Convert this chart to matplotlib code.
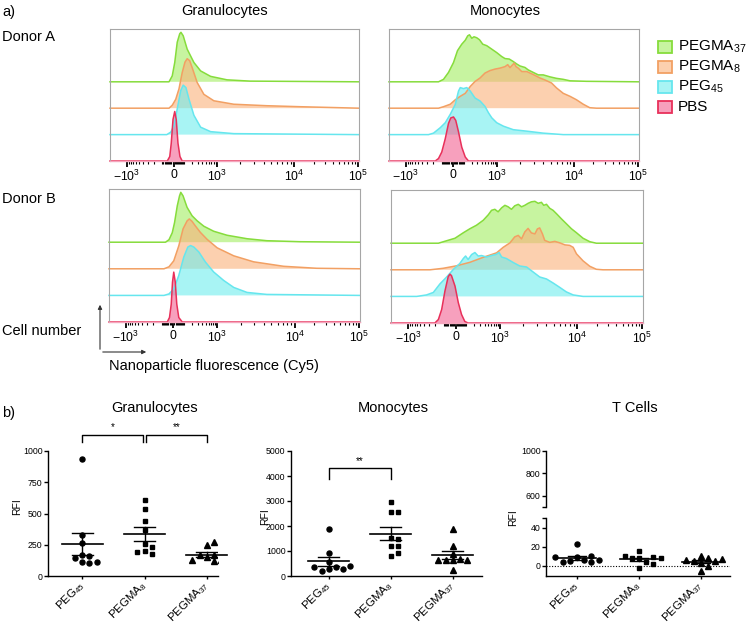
import numpy as np
import matplotlib
matplotlib.use('Agg')
import matplotlib.pyplot as plt
from matplotlib.patches import Rectangle, FancyArrowPatch

plt.rcParams['font.family'] = ['Liberation Sans', 'DejaVu Sans']
plt.rcParams['mathtext.fontset'] = 'custom'
plt.rcParams['mathtext.rm'] = 'Liberation Sans'
plt.rcParams['mathtext.it'] = 'Liberation Sans:italic'
plt.rcParams['mathtext.bf'] = 'Liberation Sans:bold'
plt.rcParams['mathtext.sf'] = 'Liberation Sans'

# ------------------------------------------------------------------ data
# Histograms: x in display channels (0-1000), y in % of modal height
A_GRAN_GREEN_X = [0, 237, 250, 260, 270, 280, 285, 294, 310, 337, 364, 404, 470, 563, 1000]
A_GRAN_GREEN_Y = [0, 0, 12, 39, 80, 97, 100, 93, 66, 39, 22, 11, 4, 1.4, 0]
A_GRAN_ORANGE_X = [0, 237, 250, 264, 277, 290, 301, 310, 320, 330, 350, 377, 417, 497, 630, 763, 1000]
A_GRAN_ORANGE_Y = [0, 0, 6, 18, 39, 72, 93, 100, 96, 82, 52, 28, 15, 8, 5, 3, 0]
A_GRAN_CYAN_X = [0, 228, 244, 257, 270, 284, 294, 305, 317, 337, 364, 404, 497, 1000]
A_GRAN_CYAN_Y = [0, 0, 5, 18, 52, 89, 100, 95, 72, 39, 15, 6, 2, 0]
A_GRAN_PINK_X = [0, 230, 240, 246, 253, 260, 266, 273, 281, 290, 1000]
A_GRAN_PINK_Y = [0, 0, 9, 36, 84, 100, 84, 36, 9, 0, 0]

A_MONO_GREEN_X = [0, 198, 218, 238, 258, 274, 291, 305, 315, 322, 331, 340, 351, 362, 375, 391, 411,
                  431, 451, 464, 481, 497, 511, 524, 544, 557, 577, 597, 617, 644, 670, 697, 724, 790, 1000]
A_MONO_GREEN_Y = [0, 0, 5, 19, 39, 63, 76, 84, 93, 95, 88, 91, 89, 85, 76, 73, 66,
                  59, 51, 47, 46, 41, 36, 32, 29, 24, 19, 14, 14, 10, 7, 5, 2, 1, 0]
A_MONO_ORANGE_X = [0, 198, 218, 245, 265, 285, 305, 325, 344, 364, 384, 404, 424, 444, 464, 475, 484,
                   495, 501, 508, 517, 531, 551, 577, 604, 624, 650, 670, 697, 724, 750, 777, 803, 830, 1000]
A_MONO_ORANGE_Y = [0, 0, 3, 8, 17, 24, 30, 44, 54, 61, 71, 76, 79, 81, 84, 88, 82,
                   88, 91, 84, 81, 74, 74, 68, 61, 57, 51, 41, 30, 24, 17, 8, 1, 0, 0]
A_MONO_CYAN_X = [0, 158, 178, 205, 225, 245, 265, 278, 285, 298, 311, 325, 344, 364, 384, 398, 411,
                 431, 458, 497, 551, 617, 697, 1000]
A_MONO_CYAN_Y = [0, 0, 3, 14, 24, 41, 61, 88, 95, 93, 95, 88, 74, 68, 57, 44, 34,
                 24, 17, 10, 7, 3, 0, 0]
A_MONO_PINK_X = [0, 185, 198, 211, 225, 238, 247, 258, 267, 278, 291, 305, 318, 1000]
A_MONO_PINK_Y = [0, 0, 5, 18, 45, 76, 87, 89, 82, 59, 28, 8, 0, 0]

B_GRAN_GREEN_X = [0, 225, 239, 252, 261, 272, 281, 286, 295, 311, 331, 351, 378, 417, 470, 550, 629, 762, 1000]
B_GRAN_GREEN_Y = [0, 0, 5, 19, 39, 73, 93, 100, 93, 70, 53, 43, 32, 22, 14, 7, 3, 1, 0]
B_GRAN_ORANGE_X = [0, 219, 239, 258, 278, 295, 311, 320, 331, 344, 364, 391, 431, 497, 576, 696, 828, 1000]
B_GRAN_ORANGE_Y = [0, 0, 4, 16, 46, 80, 96, 100, 95, 86, 73, 59, 42, 26, 14, 5, 1, 0]
B_GRAN_CYAN_X = [0, 219, 239, 258, 278, 298, 314, 325, 338, 358, 384, 417, 457, 497, 550, 629, 1000]
B_GRAN_CYAN_Y = [0, 0, 3, 13, 40, 77, 97, 100, 97, 87, 67, 47, 30, 16, 6, 2, 0]
B_GRAN_PINK_X = [0, 232, 241, 248, 253, 258, 264, 270, 278, 292, 1000]
B_GRAN_PINK_Y = [0, 0, 9, 36, 80, 100, 80, 36, 9, 0, 0]

B_MONO_GREEN_X = [0, 188, 221, 254, 287, 313, 339, 366, 386, 399, 412, 425, 439, 452, 465, 478, 491, 505, 518,
                  531, 544, 557, 571, 584, 597, 606, 617, 630, 643, 657, 676, 696, 716, 736, 762, 789, 815, 1000]
B_MONO_GREEN_Y = [0, 0, 5, 10, 21, 29, 36, 46, 57, 66, 68, 63, 71, 76, 73, 68, 75, 78, 73,
                  76, 80, 83, 84, 80, 82, 76, 78, 70, 66, 59, 49, 39, 29, 21, 10, 3, 0, 0]
B_MONO_ORANGE_X = [0, 155, 207, 260, 313, 366, 419, 445, 472, 491, 505, 518, 531, 544, 557, 571,
                   581, 590, 601, 610, 630, 650, 670, 690, 709, 723, 736, 762, 789, 815, 841, 1000]
B_MONO_ORANGE_Y = [0, 0, 3, 8, 15, 25, 34, 45, 54, 66, 69, 62, 76, 83, 74, 72,
                   82, 84, 72, 59, 55, 57, 54, 50, 49, 45, 32, 18, 7, 1, 0, 0]
B_MONO_CYAN_X = [0, 102, 141, 168, 194, 221, 247, 273, 287, 296, 306, 320, 333, 346, 359, 379, 399,
                 416, 429, 439, 458, 485, 511, 538, 564, 590, 617, 643, 670, 696, 723, 762, 1000]
B_MONO_CYAN_Y = [0, 0, 3, 8, 25, 39, 54, 66, 76, 81, 74, 84, 88, 81, 82, 79, 82,
                 84, 88, 79, 76, 68, 61, 59, 49, 39, 35, 27, 18, 9, 3, 0, 0]
B_MONO_PINK_X = [0, 174, 188, 201, 214, 227, 234, 240, 254, 267, 280, 293, 306, 1000]
B_MONO_PINK_Y = [0, 0, 7, 27, 64, 93, 98, 95, 74, 41, 17, 3, 0, 0]

LEGEND_LABELS = ['PEGMA$_{37}$', 'PEGMA$_{8}$', 'PEG$_{45}$', 'PBS']
HIST_TICK_VALUES = [-1e3, 0, 1e3, 1e4, 1e5]
HIST_TICK_LABELS = ['$-10^3$', '0', '$10^3$', '$10^4$', '$10^5$']

# Dot plots (RFI)
CATEGORIES = ['PEG$_{45}$', 'PEGMA$_{8}$', 'PEGMA$_{37}$']
GRAN_PEG45 = [938, 329, 267, 168, 158, 142, 115, 102, 115]
GRAN_PEGMA8 = [610, 535, 444, 372, 254, 200, 179, 195, 230]
GRAN_PEGMA37 = [250, 275, 155, 170, 168, 125, 123, 125, 135]
MONO_PEG45 = [1898, 936, 561, 361, 267, 200, 267, 361, 388]
MONO_PEGMA8 = [2968, 2567, 2567, 1511, 1497, 1203, 1203, 789, 936]
MONO_PEGMA37 = [1900, 1200, 900, 700, 650, 650, 650, 650, 230]
TCELL_PEG45 = [22.6, 8.8, 6.4, 5.3, 4.2, 4.2, 6.4, 8.8, 10.6]
TCELL_PEGMA8 = [15.9, 7.8, 4.6, 7.8, 9.2, 9.9, 7.8, 2.1, -2.5]
TCELL_PEGMA37 = [9.9, 8.5, 2.8, 5.3, 5.3, 6.4, 0.0, -5.3, 7.0]

# ------------------------------------------------------------------ styles / layout
W, H = 749, 627
fig = plt.figure(figsize=(W / 100, H / 100), dpi=100)


def box(x0, y0, x1, y1):
    return [x0 / W, 1 - y1 / H, (x1 - x0) / W, (y1 - y0) / H]


def fxy(x, y):
    return x / W, 1 - y / H


FILLS = ['#a3ee61', '#fab17b', '#6eeeee', '#f26191']
EDGES = ['#86dc3c', '#f2a063', '#66e6ee', '#e8305a']
OFFSETS = [160, 106.7, 53.3, 0]
YTOP = 266.7
TICK_ANCHORS = [68, 256, 431, 740, 997]


def to_channel(v):
    v = np.asarray(v, float)
    a = 150.0
    cn, c0, c3, c4, c5 = TICK_ANCHORS
    small = c0 + np.where(v >= 0, c3 - c0, c0 - cn) * np.arcsinh(v / a) / np.arcsinh(1000 / a)
    big = np.interp(np.log10(np.maximum(np.abs(v), 1)), [3, 4, 5], [c3, c4, c5])
    return np.where(np.abs(v) <= 1000, small, big)


MINOR_VALUES = np.concatenate([-np.arange(100, 1000, 100), -np.arange(10, 100, 10),
                               np.arange(10, 100, 10), np.arange(100, 1000, 100),
                               np.arange(2e3, 1e4, 1e3), np.arange(2e4, 1e5, 1e4)])


def hist_panel(rect, curves):
    ax = fig.add_axes(rect)
    for (x, y), off, fc, ec in zip(curves, OFFSETS, FILLS, EDGES):
        x = np.asarray(x, float)
        y = np.asarray(y, float) + off
        ax.fill_between(x, off, y, facecolor=fc, alpha=0.6, lw=0)
        ax.plot(x, y, color=ec, lw=1.1, clip_on=False, solid_joinstyle='round')
    ax.set_xlim(0, 1000)
    ax.set_ylim(0, YTOP)
    ax.set_yticks([])
    ax.set_xticks(to_channel(HIST_TICK_VALUES))
    ax.set_xticklabels(HIST_TICK_LABELS, fontsize=8.8)
    ax.set_xticks(to_channel(MINOR_VALUES), minor=True)
    ax.tick_params(axis='x', which='major', length=4, width=1.3, direction='out', pad=1.5, color='black')
    ax.tick_params(axis='x', which='minor', length=2.5, width=0.8, direction='out', color='black')
    for s in ['left', 'top', 'right']:
        ax.spines[s].set_color('#a6a6a6')
        ax.spines[s].set_linewidth(0.8)
    ax.spines['bottom'].set_color('#f4a6bd')
    ax.spines['bottom'].set_linewidth(1.0)
    return ax


hist_panel(box(110, 29, 359, 161), [(A_GRAN_GREEN_X, A_GRAN_GREEN_Y), (A_GRAN_ORANGE_X, A_GRAN_ORANGE_Y),
                                    (A_GRAN_CYAN_X, A_GRAN_CYAN_Y), (A_GRAN_PINK_X, A_GRAN_PINK_Y)])
hist_panel(box(389, 29, 639, 161), [(A_MONO_GREEN_X, A_MONO_GREEN_Y), (A_MONO_ORANGE_X, A_MONO_ORANGE_Y),
                                    (A_MONO_CYAN_X, A_MONO_CYAN_Y), (A_MONO_PINK_X, A_MONO_PINK_Y)])
hist_panel(box(109, 189, 360, 322), [(B_GRAN_GREEN_X, B_GRAN_GREEN_Y), (B_GRAN_ORANGE_X, B_GRAN_ORANGE_Y),
                                     (B_GRAN_CYAN_X, B_GRAN_CYAN_Y), (B_GRAN_PINK_X, B_GRAN_PINK_Y)])
hist_panel(box(391, 190, 643, 323), [(B_MONO_GREEN_X, B_MONO_GREEN_Y), (B_MONO_ORANGE_X, B_MONO_ORANGE_Y),
                                     (B_MONO_CYAN_X, B_MONO_CYAN_Y), (B_MONO_PINK_X, B_MONO_PINK_Y)])

# texts of part a
fig.text(*fxy(2, 12), 'a)', fontsize=10.5, va='center', ha='left')
fig.text(*fxy(225, 11), 'Granulocytes', fontsize=10.5, va='center', ha='center')
fig.text(*fxy(505, 11), 'Monocytes', fontsize=10.5, va='center', ha='center')
fig.text(*fxy(2, 37), 'Donor A', fontsize=10.5, va='center', ha='left')
fig.text(*fxy(2, 199), 'Donor B', fontsize=10.5, va='center', ha='left')
fig.text(*fxy(2, 331), 'Cell number', fontsize=10.5, va='center', ha='left')
fig.text(*fxy(109, 366), 'Nanoparticle fluorescence (Cy5)', fontsize=10.5, va='center', ha='left')
for end in [(100, 302), (149, 352)]:
    fig.add_artist(FancyArrowPatch(fxy(100, 352), fxy(*end), transform=fig.transFigure,
                                   arrowstyle='-|>', mutation_scale=6, lw=0.8, color='#333333'))

# legend
for i, (lab, fc, ec) in enumerate(zip(LEGEND_LABELS, FILLS, EDGES)):
    yc = 47 + 20 * i
    x0, y0 = fxy(658, yc + 6)
    fig.add_artist(Rectangle((x0, y0), 14 / W, 12 / H, transform=fig.transFigure,
                             facecolor=fc, alpha=0.6, lw=0))
    fig.add_artist(Rectangle((x0, y0), 14 / W, 12 / H, transform=fig.transFigure,
                             facecolor='none', edgecolor=ec, lw=1.3))
    fig.text(*fxy(678, yc), lab, fontsize=11, va='center', ha='left')

# ------------------------------------------------------------------ part b
fig.text(*fxy(2, 413), 'b)', fontsize=10.5, va='center', ha='left')
fig.text(*fxy(155, 408), 'Granulocytes', fontsize=10.5, va='center', ha='center')
fig.text(*fxy(393, 408), 'Monocytes', fontsize=10.5, va='center', ha='center')
fig.text(*fxy(635, 408), 'T Cells', fontsize=10.5, va='center', ha='center')

MARKERS = [('o', 3.6), ('s', 3.3), ('^', 4.0)]


def swarm_x(ax, cat, values, step_px=7.2, min_px=5.8):
    pts = ax.transData.transform(np.column_stack([np.full(len(values), float(cat)), values]))
    x0 = pts[0, 0]
    cands = [0]
    for i in range(1, 20):
        cands += [i, -i]
    placed, xs = [], []
    for yv in pts[:, 1]:
        for c in cands:
            xc = x0 + c * step_px
            if all((xc - px) ** 2 + (yv - py) ** 2 >= min_px ** 2 for px, py in placed):
                break
        placed.append((xc, yv))
        xs.append(xc)
    back = ax.transData.inverted().transform(np.column_stack([xs, pts[:, 1]]))
    return back[:, 0]


def style_dot_axis(ax, xlim):
    ax.set_xlim(*xlim)
    for s in ['top', 'right']:
        ax.spines[s].set_visible(False)
    for s in ['left', 'bottom']:
        ax.spines[s].set_linewidth(1.0)
    ax.tick_params(axis='y', length=3, width=1.0, labelsize=6.3, pad=1)
    ax.tick_params(axis='x', length=2.5, width=1.0, pad=3)


def draw_groups(axes_for_points, groups, half=0.33, cap=0.17):
    ax = axes_for_points[0]
    for i, vals in enumerate(groups):
        vals = np.asarray(vals, float)
        m, ms = MARKERS[i]
        xs = swarm_x(ax, i, vals)
        mean = vals.mean()
        sem = vals.std(ddof=1) / np.sqrt(len(vals))
        for a in axes_for_points:
            a.plot(xs, vals, ls='none', marker=m, ms=ms, color='black', zorder=3)
            a.plot([i - half, i + half], [mean, mean], color='black', lw=1.2, zorder=4, clip_on=False)
            a.plot([i, i], [mean - sem, mean + sem], color='black', lw=1.0, zorder=4)
            for yy in (mean - sem, mean + sem):
                a.plot([i - cap, i + cap], [yy, yy], color='black', lw=1.0, zorder=4)


def set_cat_labels(ax):
    ax.set_xticks(range(len(CATEGORIES)))
    ax.set_xticklabels(CATEGORIES, rotation=45, ha='right', va='center',
                       rotation_mode='anchor', fontsize=8.2)


# Granulocytes
axg = fig.add_axes(box(48, 451, 218, 576))
axg.set_ylim(0, 1000)
style_dot_axis(axg, (-0.55, 2.18))
axg.set_yticks([0, 250, 500, 750, 1000])
set_cat_labels(axg)
draw_groups([axg], [GRAN_PEG45, GRAN_PEGMA8, GRAN_PEGMA37])
for (x0, x1), star in [((0, 0.98), '*'), ((1.03, 2), '**')]:
    axg.plot([x0, x0, x1, x1], [1075, 1128, 1128, 1075], color='black', lw=1.0, clip_on=False)
    axg.text((x0 + x1) / 2, 1150, star, fontsize=7, ha='center', va='bottom')
fig.text(*fxy(17, 507), 'RFI', fontsize=7.5, rotation=90, va='center', ha='center')

# Monocytes
axm = fig.add_axes(box(291, 451, 482, 576))
axm.set_ylim(0, 5000)
style_dot_axis(axm, (-0.61, 2.47))
axm.set_yticks([0, 1000, 2000, 3000, 4000, 5000])
set_cat_labels(axm)
draw_groups([axm], [MONO_PEG45, MONO_PEGMA8, MONO_PEGMA37])
axm.plot([0, 0, 1, 1], [3867, 4333, 4333, 3867], color='black', lw=1.0, clip_on=False)
axm.text(0.5, 4400, '**', fontsize=7, ha='center', va='bottom')
fig.text(*fxy(265, 517), 'RFI', fontsize=7.5, rotation=90, va='center', ha='center')

# T cells (broken axis)
axt_hi = fig.add_axes(box(546, 451, 730, 507))
axt_lo = fig.add_axes(box(546, 518, 730, 576))
axt_hi.set_ylim(500, 1000)
axt_lo.set_ylim(-10.5, 50)
for a in (axt_hi, axt_lo):
    style_dot_axis(a, (-0.5, 2.47))
axt_hi.spines['bottom'].set_visible(False)
axt_hi.set_xticks([])
axt_hi.set_yticks([500, 600, 800, 1000])
axt_hi.set_yticklabels(['', '600', '800', '1000'])
axt_lo.set_yticks([0, 20, 40, 50])
axt_lo.set_yticklabels(['0', '20', '40', ''])
set_cat_labels(axt_lo)
axt_lo.axhline(0, color='black', lw=0.8, ls=(0, (1, 1.5)), zorder=1)
draw_groups([axt_lo], [TCELL_PEG45, TCELL_PEGMA8, TCELL_PEGMA37], half=0.31, cap=0.15)
fig.text(*fxy(513, 518), 'RFI', fontsize=7.5, rotation=90, va='center', ha='center')

fig.savefig('out.png', dpi=100)
